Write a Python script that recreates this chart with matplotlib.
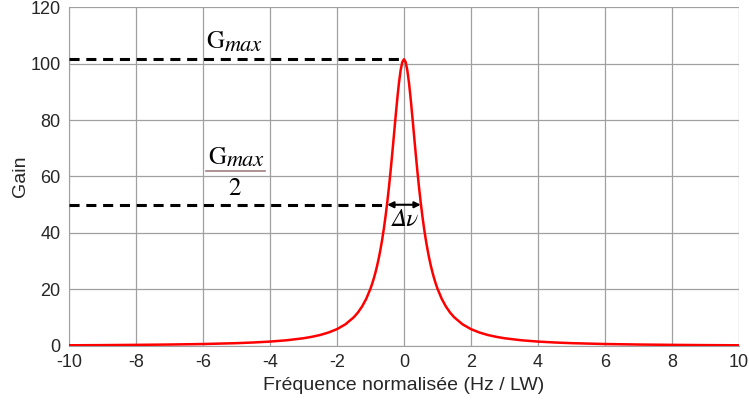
import matplotlib
matplotlib.use('Agg')
import matplotlib.pyplot as plt

# gain curve
freq = [-10, -9, -8, -7, -6, -5, -4.5, -4, -3.5, -3, -2.75, -2.5, -2.25, -2,
        -1.75, -1.5, -1.375, -1.25, -1.125, -1,
        -0.95, -0.9, -0.85, -0.8, -0.75, -0.7, -0.65, -0.6, -0.55, -0.5,
        -0.45, -0.4, -0.35, -0.3, -0.25, -0.2, -0.15, -0.1, -0.05, 0,
        0.05, 0.1, 0.15, 0.2, 0.25, 0.3, 0.35, 0.4, 0.45,
        0.5, 0.55, 0.6, 0.65, 0.7, 0.75, 0.8, 0.85, 0.9, 0.95,
        1, 1.125, 1.25, 1.375, 1.5, 1.75,
        2, 2.25, 2.5, 2.75, 3, 3.5, 4, 4.5, 5, 6, 7, 8, 9, 10]
gain = [0.25, 0.31, 0.40, 0.52, 0.70, 1.00, 1.24, 1.56, 2.03, 2.74, 3.25, 3.90, 4.78, 5.97,
        7.66, 10.15, 11.85, 14.00, 16.74, 20.30,
        22.02, 23.94, 26.09, 28.51, 31.23, 34.29, 37.73, 41.60, 45.93, 50.75,
        56.08, 61.89, 68.12, 74.63, 81.20, 87.50, 93.12, 97.60, 100.50, 101.5,
        100.50, 97.60, 93.12, 87.50, 81.20, 74.63, 68.12, 61.89, 56.08,
        50.75, 45.93, 41.60, 37.73, 34.29, 31.23, 28.51, 26.09, 23.94, 22.02,
        20.30, 16.74, 14.00, 11.85, 10.15, 7.66,
        5.97, 4.78, 3.90, 3.25, 2.74, 2.03, 1.56, 1.24, 1.00, 0.70, 0.52, 0.40, 0.31, 0.25]

g_max = 101.5
g_half = 50
half_lo, half_hi = -0.5, 0.5

xticks = list(range(-10, 11, 2))
yticks = list(range(0, 121, 20))

plt.rcParams['font.family'] = ['Liberation Sans', 'DejaVu Sans']
plt.rcParams['axes.unicode_minus'] = False

fig = plt.figure(figsize=(7.49, 4.05), dpi=100)
ax = fig.add_axes([0.0921, 0.1457, 0.8945, 0.837])

ax.plot(freq, gain, color='red', lw=1.8, zorder=3)
ax.plot([-10, 0], [g_max, g_max], 'k--', lw=2.2, dashes=(3.3, 2.2), zorder=4)
ax.plot([-10, half_lo], [g_half, g_half], 'k--', lw=2.2, dashes=(3.3, 2.2), zorder=4)
ax.annotate('', xy=(half_hi, g_half), xytext=(half_lo, g_half),
            arrowprops=dict(arrowstyle='<|-|>', color='black', lw=1.5,
                            mutation_scale=9, shrinkA=0, shrinkB=0), zorder=5)


def gmax_label(x, y):
    # upright G with a large italic "max" subscript
    g = ax.text(x, y, 'G', family='STIXGeneral', fontsize=18, va='baseline', ha='left')
    ax.annotate('max', xy=(1, 0), xycoords=g, xytext=(0.5, -1),
                textcoords='offset points', family='STIXGeneral', style='italic',
                fontsize=16, va='bottom', ha='left')


gmax_label(-5.9, 105.4)
gmax_label(-5.85, 64.5)
ax.plot([-5.92, -4.15], [61.8, 61.8], color='#a08080', lw=1.2)
ax.text(-5.05, 55.5, '2', family='STIXGeneral', fontsize=18, va='center', ha='center')
ax.text(0.05, 44.5, 'Δν', family='STIXGeneral', style='italic', fontsize=18,
        va='center', ha='center')

ax.set_xlim(-10, 10)
ax.set_ylim(0, 120)
ax.set_xticks(xticks)
ax.set_yticks(yticks)
ax.grid(True, color='#a0a0a0', lw=0.9)
ax.tick_params(length=0, labelsize=13, colors='#262626', pad=6)
for s in ['top', 'right']:
    ax.spines[s].set_visible(False)
for s in ['left', 'bottom']:
    ax.spines[s].set_color('#a0a0a0')
ax.set_xlabel('Fréquence normalisée (Hz / LW)', fontsize=14, color='#262626', labelpad=4)
ax.set_ylabel('Gain', fontsize=14, color='#262626', labelpad=1)

fig.savefig('out.png', dpi=100)
